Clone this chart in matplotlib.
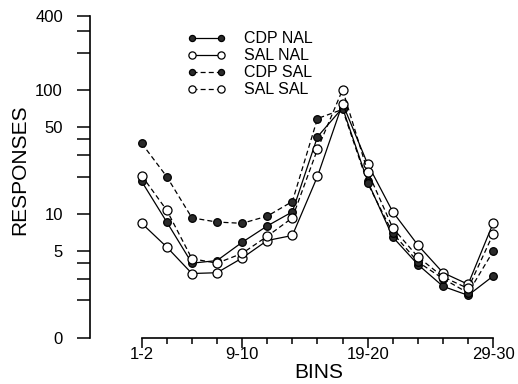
import matplotlib
matplotlib.use("Agg")
import matplotlib.pyplot as plt
from matplotlib.ticker import FixedLocator, NullFormatter

plt.rcParams["font.family"] = ["Liberation Sans", "DejaVu Sans"]

# bins 1-2 ... 29-30 (15 bins)
bins = [f"{2 * i + 1}-{2 * i + 2}" for i in range(15)]
labeled_bins = ["1-2", "9-10", "19-20", "29-30"]

cdp_nal = [18.3, 8.6, 4.0, 4.2, 5.9, 8.0, 10.4, 42, 72, 18.3, 6.5, 3.9, 2.6, 2.2, 3.15]
sal_nal = [8.4, 5.4, 3.3, 3.35, 4.4, 6.1, 6.7, 20.1, 78, 25.3, 10.4, 5.6, 3.35, 2.7, 8.45]
cdp_sal = [37.2, 20.0, 9.3, 8.6, 8.4, 9.6, 12.6, 59, 70, 17.7, 7.0, 4.1, 3.0, 2.3, 5.0]
sal_sal = [20.4, 10.7, 4.35, 4.0, 4.8, 6.6, 9.3, 33.3, 101, 22.0, 7.7, 4.5, 3.1, 2.5, 6.9]

series = [
    ("CDP NAL", cdp_nal, "-", True),
    ("SAL NAL", sal_nal, "-", False),
    ("CDP SAL", cdp_sal, "--", True),
    ("SAL SAL", sal_sal, "--", False),
]

y_major = [1, 5, 10, 50, 100, 400]
y_major_labels = ["0", "5", "10", "50", "100", "400"]
y_minor = [2, 3, 4, 20, 30, 40, 200, 300]

fig = plt.figure(figsize=(5.18, 3.84), dpi=100)
ax = fig.add_axes([0.1737, 0.1206, 0.793, 0.8385])

x = list(range(len(bins)))
handles = []
for name, vals, ls, filled in series:
    (h,) = ax.plot(
        x, vals, ls=ls, color="black", lw=0.9,
        marker="o", ms=5.5 if filled else 6.5,
        mfc="#2a2a2a" if filled else "white", mec="black", mew=0.9,
        dashes=(4, 2.5) if ls == "--" else (None, None),
        label=name, zorder=3 if filled else 4,
    )
    handles.append(h)

ax.set_yscale("log")
ax.set_ylim(1, 400)
ax.set_xlim(-2.06, 14.3)

for s in ("top", "right"):
    ax.spines[s].set_visible(False)
ax.spines["left"].set_bounds(1, 400)
ax.spines["bottom"].set_bounds(0, 14)
ax.spines["left"].set_linewidth(1.2)
ax.spines["bottom"].set_linewidth(1.2)

ax.yaxis.set_major_locator(FixedLocator(y_major))
ax.set_yticklabels(y_major_labels)
ax.yaxis.set_minor_locator(FixedLocator(y_minor))
ax.yaxis.set_minor_formatter(NullFormatter())
ax.tick_params(axis="y", which="both", direction="out", length=9.5, width=1.1,
               pad=10, labelsize=12)

major_idx = [bins.index(b) for b in labeled_bins]
ax.xaxis.set_major_locator(FixedLocator(major_idx))
ax.set_xticklabels(labeled_bins)
ax.xaxis.set_minor_locator(FixedLocator([i for i in x if i not in major_idx]))
ax.tick_params(axis="x", which="major", direction="out", length=7, width=1.1,
               pad=0, labelsize=12)
ax.tick_params(axis="x", which="minor", direction="out", length=4.5, width=1.1)

fig.legend(handles=handles, loc="upper left", bbox_to_anchor=(0.3614, 0.918),
           frameon=False, fontsize=11.5, numpoints=2, handlelength=2.4,
           handletextpad=1.15, labelspacing=0.12, borderpad=0,
           borderaxespad=0, markerscale=0.8)

fig.text(0.039, 1 - 170 / 384, "RESPONSES", rotation=90, ha="center",
         va="center", fontsize=15)
fig.text(0.615, 0.031, "BINS", ha="center", va="center", fontsize=15)

fig.savefig("out.png", dpi=100)
